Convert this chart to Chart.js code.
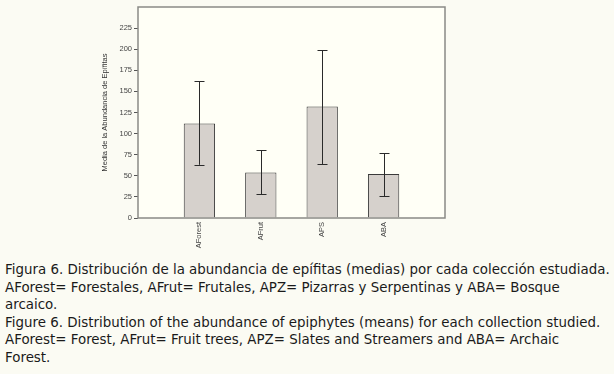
<!DOCTYPE html>
<html>
<head>
<meta charset="utf-8">
<script src="https://cdn.jsdelivr.net/npm/chart.js@4.4.1/dist/chart.umd.min.js"></script>
<style>
  html, body { margin: 0; padding: 0; background: #fbfbf3; }
  #wrap { width: 614px; height: 261px; position: relative; }
  .caption {
    font-family: "DejaVu Sans", Verdana, sans-serif;
    font-size: 13.4px;
    line-height: 17.6px;
    color: #1a1a1a;
    padding-left: 5px;
    white-space: nowrap;
  }
</style>
</head>
<body>
<div id="wrap"><canvas id="myChart" width="614" height="261"></canvas></div>
<div class="caption">
Figura 6. Distribución de la abundancia de epífitas (medias) por cada colección estudiada.<br>
AForest= Forestales, AFrut= Frutales, APZ= Pizarras y Serpentinas y ABA= Bosque<br>
arcaico.<br>
Figure 6. Distribution of the abundance of epiphytes (means) for each collection studied.<br>
AForest= Forest, AFrut= Fruit trees, APZ= Slates and Streamers and ABA= Archaic<br>
Forest.
</div>
<script>
// values
var categories = ['AForest', 'AFrut', 'APS', 'ABA'];
var means = [112, 54, 132, 52];
var lower = [63, 28, 64, 26];
var upper = [162, 80, 199, 77];
var yTicks = [0, 25, 50, 75, 100, 125, 150, 175, 200, 225];

// empty slot on each side, like the original axis
var labels = [''].concat(categories, ['']);
var barData = [null].concat(means, [null]);

var plotBox = {
    id: 'plotBox',
    beforeDraw: function (chart) {
        var a = chart.chartArea, ctx = chart.ctx;
        ctx.save();
        ctx.fillStyle = '#fffff6';
        ctx.fillRect(a.left, a.top, a.right - a.left, a.bottom - a.top);
        ctx.restore();
    },
    afterDraw: function (chart) {
        var a = chart.chartArea, ctx = chart.ctx;
        ctx.save();
        ctx.strokeStyle = '#8a8a86';
        ctx.lineWidth = 1.5;
        ctx.strokeRect(a.left, a.top, a.right - a.left, a.bottom - a.top);
        ctx.restore();
    }
};

var errorBars = {
    id: 'errorBars',
    afterDatasetsDraw: function (chart) {
        var xs = chart.scales.x, ys = chart.scales.y, ctx = chart.ctx;
        ctx.save();
        ctx.strokeStyle = '#2a2a2a';
        ctx.lineWidth = 1;
        categories.forEach(function (c, i) {
            var x = Math.round(xs.getPixelForValue(i + 1)) + 0.5;
            var yl = ys.getPixelForValue(lower[i]);
            var yu = ys.getPixelForValue(upper[i]);
            ctx.beginPath();
            ctx.moveTo(x, yl); ctx.lineTo(x, yu);
            ctx.moveTo(x - 5, Math.round(yl) + 0.5); ctx.lineTo(x + 5, Math.round(yl) + 0.5);
            ctx.moveTo(x - 5, Math.round(yu) + 0.5); ctx.lineTo(x + 5, Math.round(yu) + 0.5);
            ctx.stroke();
        });
        ctx.restore();
    }
};

var ctx = document.getElementById('myChart').getContext('2d');
var myChart = new Chart(ctx, {
    type: 'bar',
    data: {
        labels: labels,
        datasets: [{
            data: barData,
            backgroundColor: '#d6d1cc',
            borderColor: '#3a3a3a',
            borderWidth: 1,
            categoryPercentage: 1,
            barPercentage: 0.51
        }]
    },
    options: {
        responsive: false,
        animation: false,
        events: [],
        layout: { padding: { left: 100, right: 169, top: 7, bottom: 3 } },
        plugins: { legend: { display: false }, tooltip: { enabled: false } },
        scales: {
            x: {
                offset: false,
                grid: { display: false, drawTicks: false },
                border: { display: false },
                ticks: {
                    minRotation: 90, maxRotation: 90, autoSkip: false,
                    color: '#444', padding: 4,
                    font: { family: 'Liberation Sans', size: 7.5 }
                },
                afterFit: function (s) { s.height = 40; }
            },
            y: {
                min: 0, max: 250,
                afterBuildTicks: function (s) {
                    s.ticks = yTicks.map(function (v) { return { value: v }; });
                },
                grid: { drawOnChartArea: false, drawTicks: true, tickLength: 4, color: '#555' },
                border: { display: false },
                ticks: {
                    color: '#444', padding: 2,
                    font: { family: 'Liberation Sans', size: 7.5 }
                },
                title: {
                    display: true,
                    text: 'Media de la Abundancia de Epífitas',
                    color: '#333',
                    padding: { top: 0, bottom: 6 },
                    font: { family: 'Liberation Sans', size: 7.5 }
                },
                afterFit: function (s) { s.width = 38; }
            }
        }
    },
    plugins: [plotBox, errorBars]
});
</script>
</body>
</html>
